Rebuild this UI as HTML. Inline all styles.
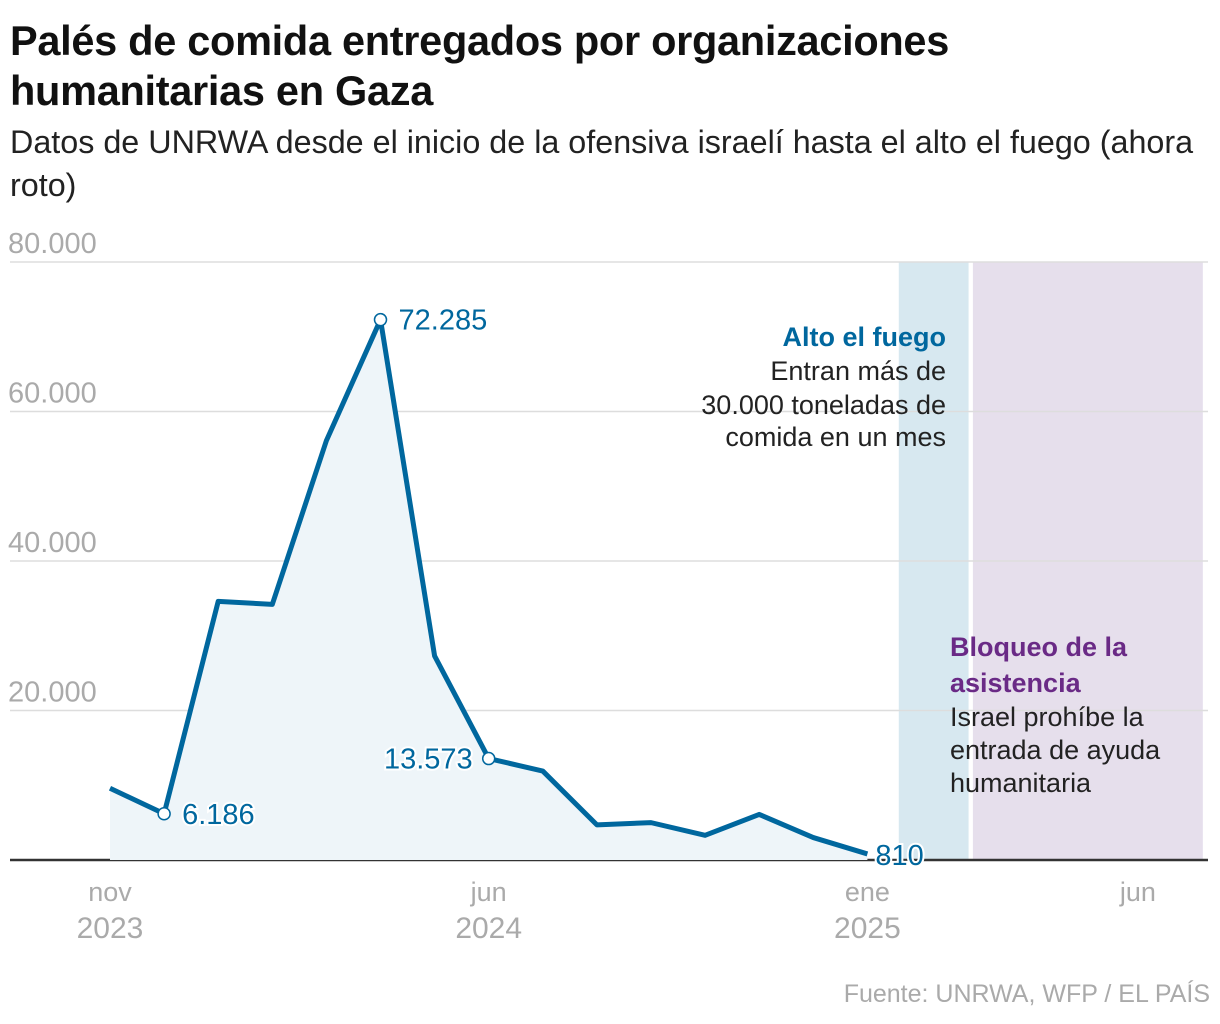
<!DOCTYPE html><html><head><meta charset="utf-8"><style>
body{margin:0;background:#fff;width:1220px;height:1024px;overflow:hidden;font-family:"Liberation Sans",sans-serif}
h1{position:absolute;left:10px;top:16px;margin:0;font-size:41.5px;line-height:50px;font-weight:bold;color:#111;letter-spacing:-0.3px}
.sub{position:absolute;left:10px;top:121px;font-size:32.3px;line-height:43px;color:#222;width:1215px;white-space:nowrap}
.src{position:absolute;right:10px;top:980px;font-size:25px;color:#aaa}
</style></head><body>
<h1>Palés de comida entregados por organizaciones<br>humanitarias en Gaza</h1>
<div class="sub">Datos de UNRWA desde el inicio de la ofensiva israelí hasta el alto el fuego (ahora<br>roto)</div>
<svg id="c" width="1220" height="1024" style="position:absolute;left:0;top:0"></svg>
<div class="src">Fuente: UNRWA, WFP / EL PAÍS</div>
<script>
const values=[9600,6186,34600,34200,56100,72285,27300,13573,11900,4700,5000,3300,6100,3000,810];
const yTicks=[0,20000,40000,60000,80000];
const yTickLabels=["","20.000","40.000","60.000","80.000"];
const xTickIdx=[0,7,14,19];
const xTickLabels=[["nov","2023"],["jun","2024"],["ene","2025"],["jun",""]];
const labeled=[1,5,7,14];
const bands=[[14.58,15.87,"#d7e8f0"],[15.95,20.2,"#e6dfec"]];
const X=i=>110+i*54.1, Y=v=>860-v/80000*598;
const s=document.getElementById('c'),NS="http://www.w3.org/2000/svg";
function add(t,a,txt){const e=document.createElementNS(NS,t);for(const k in a)e.setAttribute(k,a[k]);if(txt!==undefined)e.textContent=txt;s.appendChild(e);return e;}
bands.forEach((b,i)=>{const r=add('rect',{x:X(b[0]),y:Y(80000),width:X(b[1])-X(b[0]),height:Y(0)-Y(80000),fill:b[2]});

});
yTicks.forEach((v,i)=>{const l=add('line',{x1:10,x2:1208,y1:Y(v),y2:Y(v),stroke:i?'#ddd':'#333','stroke-width':i?1.5:2.5});


if(yTickLabels[i]){const t=add('text',{x:8,y:Y(v)-9,'font-size':29,fill:'#aaa'},yTickLabels[i]);

}});
xTickIdx.forEach((ix,i)=>{const t=add('text',{x:X(ix),y:901,'font-size':27,fill:'#aaa','text-anchor':'middle'},xTickLabels[i][0]);


const t2=add('text',{x:X(ix),y:938,'font-size':30,fill:'#aaa','text-anchor':'middle'},xTickLabels[i][1]);

});
const pts=values.map((v,i)=>X(i)+','+Y(v));
const a=add('polygon',{points:X(0)+','+Y(0)+' '+pts.join(' ')+' '+X(values.length-1)+','+Y(0),fill:'#eef5f9'});


const p=add('polyline',{points:pts.join(' '),fill:'none',stroke:'#00679e','stroke-width':5,'stroke-linejoin':'round'});


const fmt=v=>v.toLocaleString('de-DE');
labeled.forEach(i=>{const x=X(i),y=Y(values[i]);
if(i!==14){const c=add('circle',{cx:x,cy:y,r:6,fill:'#fff',stroke:'#00679e','stroke-width':1.5});

}
const left=i===7;
const t=add('text',{x:left?x-16:x+(i===14?8:18),y:y+(i===14?11:10),'font-size':29,fill:'#00679e','text-anchor':left?'end':'start',stroke:'#fff','stroke-width':4,'paint-order':'stroke'},fmt(values[i]));

});
const notes=[[946,'end',[[346,'Alto el fuego','#00679e',1],[380,'Entran más de','#222',0],[414,'30.000 toneladas de','#222',0],[446,'comida en un mes','#222',0]]],
[950,'start',[[656,'Bloqueo de la','#6a2a86',1],[692,'asistencia','#6a2a86',1],[726,'Israel prohíbe la','#222',0],[759,'entrada de ayuda','#222',0],[792,'humanitaria','#222',0]]]];
notes.forEach((n,k)=>n[2].forEach(r=>{const t=add('text',{x:n[0],y:r[0],'font-size':27,'font-weight':r[3]?'bold':'normal',fill:r[2],'text-anchor':n[1]},r[1]);

}));
</script></body></html>
